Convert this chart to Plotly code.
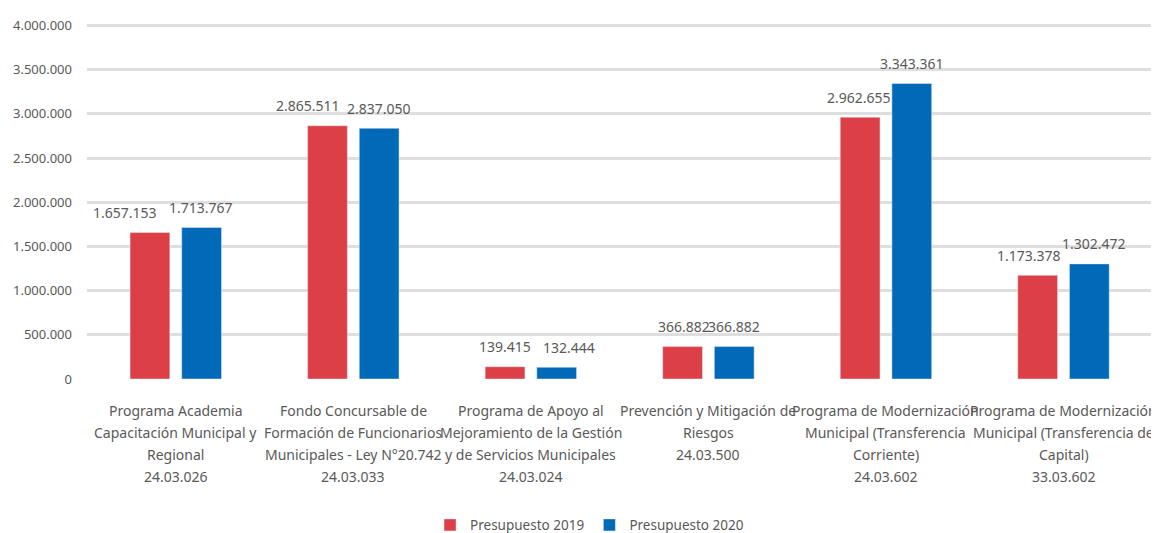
import plotly.graph_objects as go

categories = [
    "Programa Academia<br>Capacitación Municipal y<br>Regional<br>24.03.026",
    "Fondo Concursable de<br>Formación de Funcionarios<br>Municipales - Ley N°20.742<br>24.03.033",
    "Programa de Apoyo al<br>Mejoramiento de la Gestión<br>y de Servicios Municipales<br>24.03.024",
    "Prevención y Mitigación de<br>Riesgos<br>24.03.500",
    "Programa de Modernización<br>Municipal (Transferencia<br>Corriente)<br>24.03.602",
    "Programa de Modernización<br>Municipal (Transferencia de<br>Capital)<br>33.03.602",
]
presupuesto_2019 = [1657153, 2865511, 139415, 366882, 2962655, 1173378]
presupuesto_2020 = [1713767, 2837050, 132444, 366882, 3343361, 1302472]
tick_vals = [0, 500000, 1000000, 1500000, 2000000, 2500000, 3000000, 3500000, 4000000]

FONT = "Noto Sans, sans-serif"
TXT = "#595959"
RED = "#dc3f46"
BLUE = "#0069b8"

# style: horizontal nudges (px) of the data labels, as Excel placed them
nudge_2019 = [-25, -19, 0, 2, -1, -9]
nudge_2020 = [-1, 0, 12, 0, 0, 4]
BAR_OFFSET = 26  # px from group centre to bar centre


def fmt(v):
    return f"{v:,}".replace(",", ".")


fig = go.Figure()
fig.add_trace(go.Bar(name="Presupuesto 2019", x=categories, y=presupuesto_2019,
                     marker_color=RED))
fig.add_trace(go.Bar(name="Presupuesto 2020", x=categories, y=presupuesto_2020,
                     marker_color=BLUE))

annotations = []
for cat, v, n in zip(categories, presupuesto_2019, nudge_2019):
    annotations.append(dict(x=cat, y=v, xref="x", yref="y", text=fmt(v),
                            showarrow=False, yanchor="middle", yshift=20,
                            xshift=-BAR_OFFSET + n,
                            font=dict(family=FONT, size=14, color=TXT)))
for cat, v, n in zip(categories, presupuesto_2020, nudge_2020):
    annotations.append(dict(x=cat, y=v, xref="x", yref="y", text=fmt(v),
                            showarrow=False, yanchor="middle", yshift=20,
                            xshift=BAR_OFFSET + n,
                            font=dict(family=FONT, size=14, color=TXT)))
# category labels, one annotation per line for Excel-like line spacing
for cat in categories:
    for i, line in enumerate(cat.split("<br>")):
        annotations.append(dict(x=cat, y=0, xref="x", yref="paper", text=line,
                                showarrow=False, yanchor="middle",
                                yshift=-(31 + 22 * i),
                                font=dict(family=FONT, size=14, color=TXT)))

# the page body adds an 8px offset; margins compensate for it
fig.update_layout(
    width=1159, height=533,
    margin=dict(l=79, r=8, t=12, b=162, autoexpand=False),
    paper_bgcolor="white", plot_bgcolor="white",
    barmode="group", bargap=0.418, bargroupgap=0.23,
    separators=",.",
    font=dict(family=FONT, color=TXT, size=13),
    showlegend=True,
    legend=dict(orientation="h", x=0.320, xanchor="left", y=-0.407, yanchor="middle",
                font=dict(family=FONT, size=13.5, color=TXT), itemwidth=30,
                bgcolor="rgba(0,0,0,0)"),
    annotations=annotations,
)
fig.update_yaxes(range=[0, 4062000], tickvals=tick_vals, tickformat=",d",
                 showgrid=True, gridcolor="#dedede", gridwidth=2.5,
                 zeroline=False, showline=False, ticks="", ticklabelstandoff=14,
                 automargin=False,
                 tickfont=dict(family=FONT, size=13, color=TXT))
fig.update_xaxes(showline=False, ticks="", showticklabels=False, automargin=False)

fig.write_html("out.html")
